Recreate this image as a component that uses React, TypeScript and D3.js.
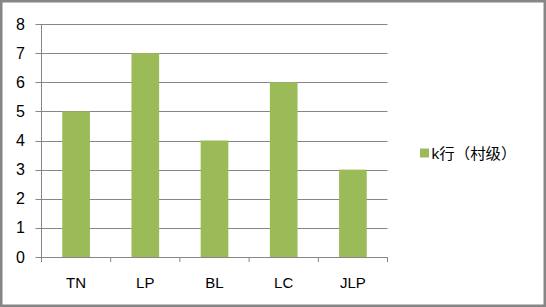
import React from "react";
import * as d3 from "d3";

const categories = ["TN", "LP", "BL", "LC", "JLP"];
const values = [5, 7, 4, 6, 3];
const yTicks = [0, 1, 2, 3, 4, 5, 6, 7, 8];
const seriesName = "k行（村级）";

export default function App() {
  const W = 546, H = 307;
  const left = 41.5, right = 387.5, top = 24, bottom = 257;
  const x = d3.scaleBand<string>().domain(categories).range([left, right]).paddingInner(0.6).paddingOuter(0.3);
  const band = d3.scaleBand<string>().domain(categories).range([left, right]);
  const y = d3.scaleLinear().domain([0, 8]).range([bottom, top]);
  const grid = "#868686";
  const font = "'Liberation Sans', 'Noto Sans CJK SC', sans-serif";
  return (
    <svg width={W} height={H} style={{ position: "absolute", left: 0, top: 0 }}>
      <rect x={0} y={0} width={W} height={H} fill="#fff" />
      <rect x={1.25} y={1.25} width={W - 2.5} height={H - 2.5} fill="none" stroke="#868686" strokeWidth={2.5} />
      {yTicks.map((t) => (
        <g key={t}>
          <line x1={left - 6} x2={right} y1={Math.round(y(t)) + 0.5} y2={Math.round(y(t)) + 0.5} stroke={grid} strokeWidth={1} />
          <text x={25} y={y(t) + 5.5} textAnchor="end" fontSize={16} fontFamily={font} fill="#000">{t}</text>
        </g>
      ))}
      <line x1={left} x2={left} y1={top} y2={bottom} stroke={grid} strokeWidth={1} />
      {categories.map((c, i) => (
        <line key={"t" + c} x1={band(c)!} x2={band(c)!} y1={bottom} y2={bottom + 5} stroke={grid} />
      ))}
      <line x1={right} x2={right} y1={bottom} y2={bottom + 5} stroke={grid} />
      {categories.map((c, i) => (
        <rect key={c} x={x(c)!} y={y(values[i])} width={x.bandwidth()} height={bottom - y(values[i])} fill="#9BBB59" />
      ))}
      {categories.map((c) => (
        <text key={"l" + c} x={band(c)! + band.bandwidth() / 2} y={288} textAnchor="middle" fontSize={15} fontFamily={font} fill="#000">{c}</text>
      ))}
      <rect x={420} y={148.5} width={9} height={9} fill="#9BBB59" />
      <text x={431.5} y={159} fontSize={15} fontFamily={font} fill="#000" textLength={85} lengthAdjust="spacingAndGlyphs">{seriesName}</text>
    </svg>
  );
}
